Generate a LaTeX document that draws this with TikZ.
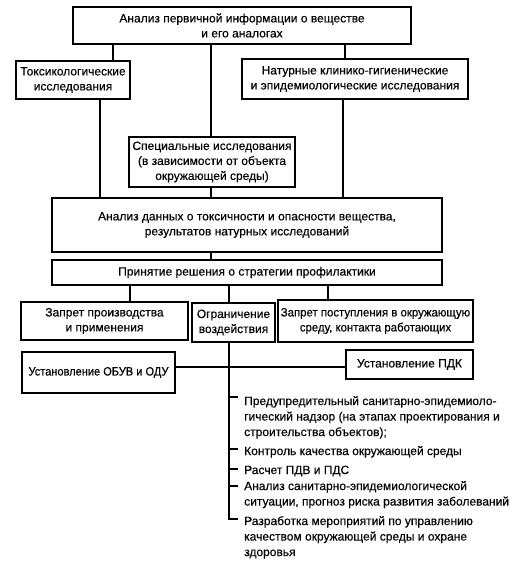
\documentclass[tikz,border=0pt]{standalone}
\usepackage{fontspec}
\setmainfont[FakeBold=0.3]{Liberation Sans}
\begin{document}
\begin{tikzpicture}[x=1pt,y=-1pt,
  box/.style={draw=black, line width=1.7pt, inner sep=1pt, align=center, font=\fontsize{12}{15}\selectfont},
  conn/.style={draw=black, line width=1.5pt},
  item/.style={inner sep=0pt, anchor=north west, align=left, font=\fontsize{12}{15.5}\selectfont}]
\useasboundingbox (0,0) rectangle (514,567);
\node[box, minimum width=338pt, minimum height=37pt] (top) at (242,25.5) {Анализ первичной информации о веществе\\и его аналогах};
\node[box, minimum width=114pt, minimum height=38pt] (tox) at (73,80) {Токсикологические\\исследования};
\node[box, minimum width=226pt, minimum height=40pt] (nat) at (355,79) {Натурные клинико-гигиенические\\и эпидемиологические исследования};
\node[box, minimum width=166pt, minimum height=50pt] (spec) at (212,162) {Специальные исследования\\(в зависимости от объекта\\окружающей среды)};
\node[box, minimum width=390pt, minimum height=54pt] (anal) at (247,225) {Анализ данных о токсичности и опасности вещества,\\результатов натурных исследований};
\node[box, minimum width=390pt, minimum height=25pt] (dec) at (247,272.5) {Принятие решения о стратегии профилактики};
\node[box, minimum width=167pt, minimum height=38pt] (zap) at (104.5,321) {Запрет производства\\и применения};
\node[box, minimum width=83pt, minimum height=39pt] (ogr) at (233.5,322.5) {Ограничение\\воздействия};
\node[box, minimum width=195pt, minimum height=42pt, font=\fontsize{12}{15}\selectfont\addfontfeature{FakeStretch=0.95}] (zpost) at (375.5,321) {Запрет поступления в окружающую\\среду, контакта работающих};
\node[box, minimum width=153pt, minimum height=41pt, font=\fontsize{12}{15}\selectfont\addfontfeature{FakeStretch=0.92}] (obuv) at (98.5,372.5) {Установление ОБУВ и ОДУ};
\node[box, minimum width=127pt, minimum height=29pt] (pdk) at (409.5,364.5) {Установление ПДК};

\draw[conn] (113,0 |- top.south) -- (113,0 |- tox.north);
\draw[conn] (211,0 |- top.south) -- (211,0 |- spec.north);
\draw[conn] (345,0 |- top.south) -- (345,0 |- nat.north);
\draw[conn] (100,0 |- tox.south) -- (100,0 |- anal.north);
\draw[conn] (211,0 |- spec.south) -- (211,0 |- anal.north);
\draw[conn] (343,0 |- nat.south) -- (343,0 |- anal.north);
\draw[conn] (211,0 |- anal.south) -- (211,0 |- dec.north);
\draw[conn] (130,0 |- dec.south) -- (130,0 |- zap.north);
\draw[conn] (229,0 |- dec.south) -- (229,0 |- ogr.north);
\draw[conn] (328,0 |- dec.south) -- (328,0 |- zpost.north);
\draw[conn] (obuv.east |- 0,367) -- (pdk.west |- 0,367);

\coordinate (t1) at (238,397);
\coordinate (t2) at (238,449);
\coordinate (t3) at (238,469);
\coordinate (t4) at (238,486);
\coordinate (t5) at (238,519);
\node[item] (i1) at (244,394) {\strut Предупредительный санитарно-эпидемиоло-\\гический надзор (на этапах проектирования и\\строительства объектов);};
\node[item] (i2) at (244,444) {\strut Контроль качества окружающей среды};
\node[item] (i3) at (244,463) {\strut Расчет ПДВ и ПДС};
\node[item] (i4) at (244,479) {\strut Анализ санитарно-эпидемиологической\\ситуации, прогноз риска развития заболеваний};
\node[item] (i5) at (244,514) {\strut Разработка мероприятий по управлению\\качеством окружающей среды и охране\\здоровья};
\draw[conn] (229,0 |- ogr.south) -- (229,0 |- t5) -- (t5);
\draw[conn] (229,0 |- t1) -- (t1);
\draw[conn] (229,0 |- t2) -- (t2);
\draw[conn] (229,0 |- t3) -- (t3);
\draw[conn] (229,0 |- t4) -- (t4);
\end{tikzpicture}
\end{document}
